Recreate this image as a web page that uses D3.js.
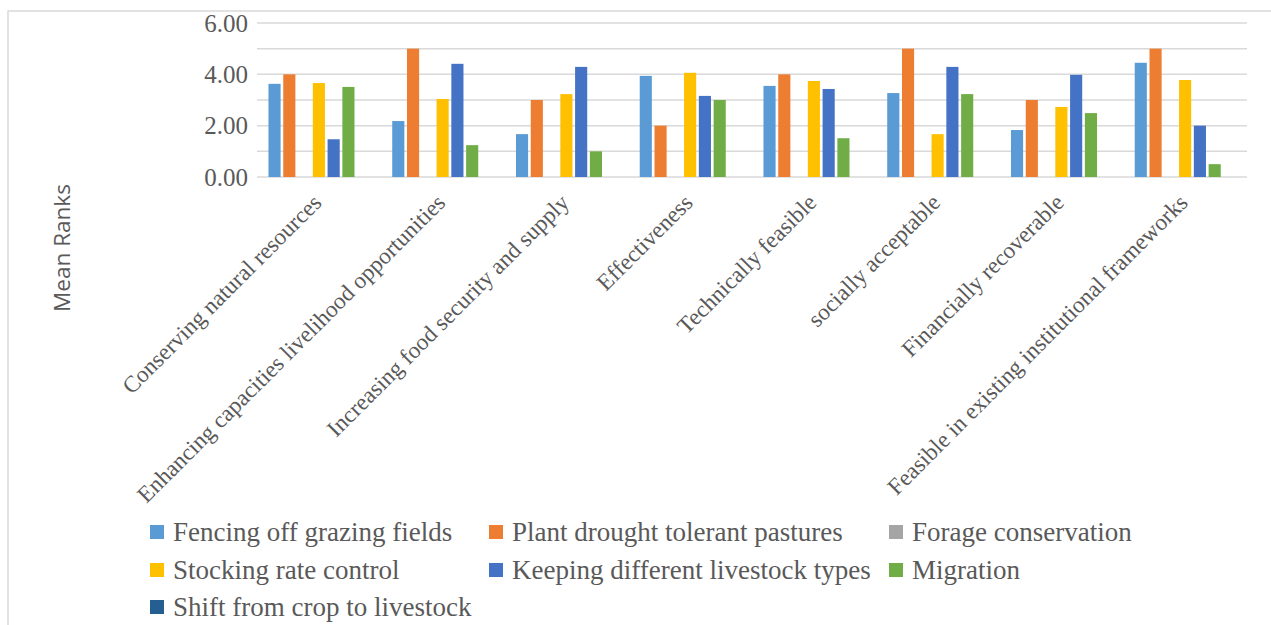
<!DOCTYPE html>
<html>
<head>
<meta charset="utf-8">
<script src="https://cdn.jsdelivr.net/npm/d3@7"></script>
<style>
  html, body { margin: 0; padding: 0; background: #fff; }
  svg { display: block; }
</style>
</head>
<body>
<svg id="chart" width="1271" height="625"></svg>
<script>
// Criteria on the x axis
const categories = [
  "Conserving natural resources",
  "Enhancing capacities livelihood opportunities",
  "Increasing food security and supply",
  "Effectiveness",
  "Technically feasible",
  "socially acceptable",
  "Financially recoverable",
  "Feasible in existing institutional frameworks"
];

// Adaptation strategies (series)
const seriesNames = [
  "Fencing off grazing fields",
  "Plant drought tolerant pastures",
  "Forage conservation",
  "Stocking rate control",
  "Keeping different livestock types",
  "Migration",
  "Shift from crop to livestock"
];

const seriesColors = ["#5B9BD5", "#ED7D31", "#A5A5A5", "#FFC000", "#4472C4", "#70AD47", "#255E91"];

// Mean ranks per strategy, one value per criterion
const fencing   = [3.63, 2.18, 1.67, 3.94, 3.55, 3.27, 1.83, 4.45];
const plant     = [4.00, 5.00, 3.00, 2.00, 4.00, 5.00, 3.00, 5.00];
const forage    = [0, 0, 0, 0, 0, 0, 0, 0];
const stocking  = [3.66, 3.04, 3.23, 4.06, 3.74, 1.67, 2.73, 3.78];
const keeping   = [1.47, 4.41, 4.29, 3.16, 3.43, 4.29, 3.98, 2.00];
const migration = [3.51, 1.24, 1.00, 3.00, 1.51, 3.23, 2.49, 0.50];
const shift     = [0, 0, 0, 0, 0, 0, 0, 0];

const seriesValues = [fencing, plant, forage, stocking, keeping, migration, shift];

const yTicks = [0, 2, 4, 6];
const yGrid = [0, 1, 2, 3, 4, 5, 6];

const svg = d3.select("#chart");
const textColor = "#595959";
const serif = "'Liberation Serif', 'Times New Roman', serif";

// Chart frame (top and left edges)
svg.append("path")
  .attr("d", "M8,1000 L8,11 L1300,11")
  .attr("fill", "none")
  .attr("stroke", "#d9d9d9")
  .attr("stroke-width", 1.5);

const plot = { left: 257, right: 1247, top: 23, bottom: 177 };

const x0 = d3.scaleBand()
  .domain(categories)
  .range([plot.left, plot.right])
  .paddingInner(0.164)
  .paddingOuter(0.082);

const x1 = d3.scaleBand()
  .domain(seriesNames)
  .range([0, x0.bandwidth()])
  .paddingInner(0.18)
  .paddingOuter(0.09);

const y = d3.scaleLinear().domain([0, 6]).range([plot.bottom, plot.top]);

// Horizontal gridlines
svg.append("g")
  .selectAll("line")
  .data(yGrid)
  .join("line")
  .attr("x1", plot.left)
  .attr("x2", plot.right)
  .attr("y1", d => y(d))
  .attr("y2", d => y(d))
  .attr("stroke", "#d9d9d9")
  .attr("stroke-width", 1.5);

// Y axis labels
const yAxis = d3.axisLeft(y)
  .tickValues(yTicks)
  .tickFormat(d3.format(".2f"))
  .tickSize(0)
  .tickPadding(9);

svg.append("g")
  .attr("transform", `translate(${plot.left},0)`)
  .call(yAxis)
  .call(g => g.select(".domain").remove())
  .call(g => g.selectAll("text")
    .attr("fill", textColor)
    .style("font-family", serif)
    .style("font-size", "25px"));

// Bars
const groups = svg.append("g")
  .selectAll("g")
  .data(categories)
  .join("g")
  .attr("transform", d => `translate(${x0(d)},0)`);

groups.selectAll("rect")
  .data((c, ci) => seriesNames.map((s, si) => ({ s, si, v: seriesValues[si][ci] })))
  .join("rect")
  .attr("x", d => x1(d.s))
  .attr("width", x1.bandwidth())
  .attr("y", d => y(d.v))
  .attr("height", d => y(0) - y(d.v))
  .attr("fill", d => seriesColors[d.si]);

// Category labels, rotated
const xAxis = d3.axisBottom(x0).tickSize(0).tickPadding(0);
svg.append("g")
  .attr("transform", `translate(0,${plot.bottom})`)
  .call(xAxis)
  .call(g => g.select(".domain").remove())
  .call(g => g.selectAll("text")
    .attr("fill", textColor)
    .attr("text-anchor", "end")
    .attr("dy", null)
    .attr("y", 0)
    .attr("transform", "translate(4,27) rotate(-45)")
    .style("font-family", serif)
    .style("font-size", "23.2px"));

// Y axis title
svg.append("text")
  .attr("transform", `translate(70,248) rotate(-90)`)
  .attr("text-anchor", "middle")
  .attr("fill", textColor)
  .style("font-family", "'Open Sans', sans-serif")
  .style("font-size", "22.5px")
  .text("Mean Ranks");

// Legend
const legendCols = [150, 489, 889];
const legendRows = [532, 570, 607];
const legend = svg.append("g")
  .selectAll("g")
  .data(seriesNames)
  .join("g")
  .attr("transform", (d, i) => `translate(${legendCols[i % 3]},${legendRows[Math.floor(i / 3)]})`);

legend.append("rect")
  .attr("x", 0)
  .attr("y", -7)
  .attr("width", 14)
  .attr("height", 14)
  .attr("fill", (d, i) => seriesColors[i]);

legend.append("text")
  .attr("x", 23)
  .attr("y", 0)
  .attr("dy", "0.35em")
  .attr("fill", textColor)
  .style("font-family", serif)
  .style("font-size", "27px")
  .text(d => d);
</script>
</body>
</html>
